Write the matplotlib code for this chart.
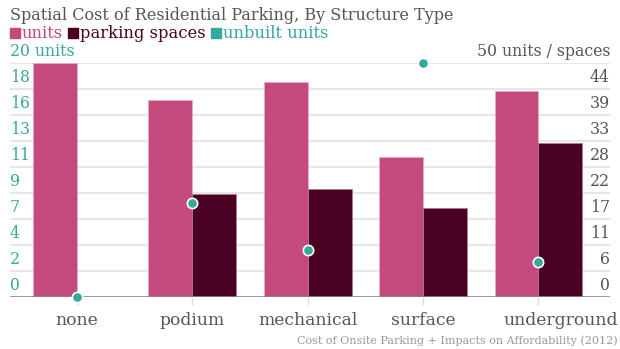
import numpy as np
import matplotlib.pyplot as plt
from matplotlib.patches import Rectangle
from matplotlib.transforms import blended_transform_factory

# data
categories = ["none", "podium", "mechanical", "surface", "underground"]
units = [50, 42, 46, 30, 44]
parking = [0, 22, 23, 19, 33]
unbuilt = [0, 8, 4, 20, 3]

c_units = "#c44a7d"
c_park = "#4a0022"
c_teal = "#35a89f"
c_text = "#555555"

plt.rcParams['font.family'] = ['DejaVu Serif']

W, H = 620, 349
fig = plt.figure(figsize=(W / 100, H / 100), dpi=100)
left, right, bot, top = 10, 610, 297, 63
ax = fig.add_axes([left / W, 1 - bot / H, (right - left) / W, (bot - top) / H])

x = np.arange(len(categories))
bw = 0.38
ax.bar(x - bw / 2, units, bw, color=c_units, edgecolor="#e8a9c3", linewidth=0.6, zorder=3)
ax.bar(x + bw / 2, parking, bw, color=c_park, edgecolor="#b07a90", linewidth=0.6, zorder=3)
ax.set_xlim(-0.58, 4.62)
ax.set_ylim(0, 50)

# gridlines (9 steps on both scales)
for k in range(1, 10):
    ax.axhline(50 * k / 9, color="#e6e6e6", lw=1.5, zorder=1)
ax.axhline(0, color="#888888", lw=1.2, zorder=4)

for s in ax.spines.values():
    s.set_visible(False)
ax.set_yticks([])
ax.set_xticks(x)
ax.set_xticklabels([])
ax.tick_params(axis="x", length=6, color="#dddddd", width=1, direction="out", pad=2)

# category labels
for i, c in enumerate(categories):
    if i == len(categories) - 1:
        ax.text(1.013, -0.1, c, transform=ax.transAxes, ha="right", va="center",
                fontsize=12.3, color=c_text)
    else:
        ax.text(i, -0.1, c, transform=blended_transform_factory(ax.transData, ax.transAxes),
                ha="center", va="center", fontsize=12.3, color=c_text)

# unbuilt units on the left scale
ax2 = ax.twinx()
ax2.set_ylim(0, 20)
ax2.set_yticks([])
for s in ax2.spines.values():
    s.set_visible(False)
ax2.scatter(x, unbuilt, s=55, color=c_teal, edgecolor="white", linewidth=1.2, zorder=5, clip_on=False)

tl = blended_transform_factory(ax.transAxes, ax2.transData)
for k in range(9):
    v = 20 * k / 9
    ax2.text(0.0, v + 0.25, "%d" % round(v), transform=tl, ha="left", va="bottom",
             fontsize=11.3, color=c_teal)
ax2.text(0.0, 20.25, "20 units", transform=tl, ha="left", va="bottom", fontsize=11.3, color=c_teal)

tr = blended_transform_factory(ax.transAxes, ax.transData)
for k in range(9):
    v = 50 * k / 9
    ax.text(1.0, v + 0.6, "%d" % round(v), transform=tr, ha="right", va="bottom",
            fontsize=11.3, color=c_text)
ax.text(1.0, 50.6, "50 units / spaces", transform=tr, ha="right", va="bottom", fontsize=11.3, color=c_text)

# title and legend
fig.text(10 / W, 1 - 15 / H, "Spatial Cost of Residential Parking, By Structure Type",
         ha="left", va="center", fontsize=11.5, color=c_text)
lx = 10
fig.canvas.draw()
for lab, col in [("units", c_units), ("parking spaces", c_park), ("unbuilt units", c_teal)]:
    fig.patches.append(Rectangle((lx / W, 1 - 38 / H), 10 / W, 10 / H, transform=fig.transFigure,
                                 color=col, figure=fig))
    t = fig.text((lx + 12) / W, 1 - 33 / H, lab, ha="left", va="center", fontsize=11.8, color=col)
    fig.canvas.draw()
    bb = t.get_window_extent()
    lx = bb.x1 + 5

fig.text(618 / W, 1 - 341 / H, "Cost of Onsite Parking + Impacts on Affordability (2012)",
         ha="right", va="center", fontsize=8, color="#999999")

fig.savefig("out.png", dpi=100)
